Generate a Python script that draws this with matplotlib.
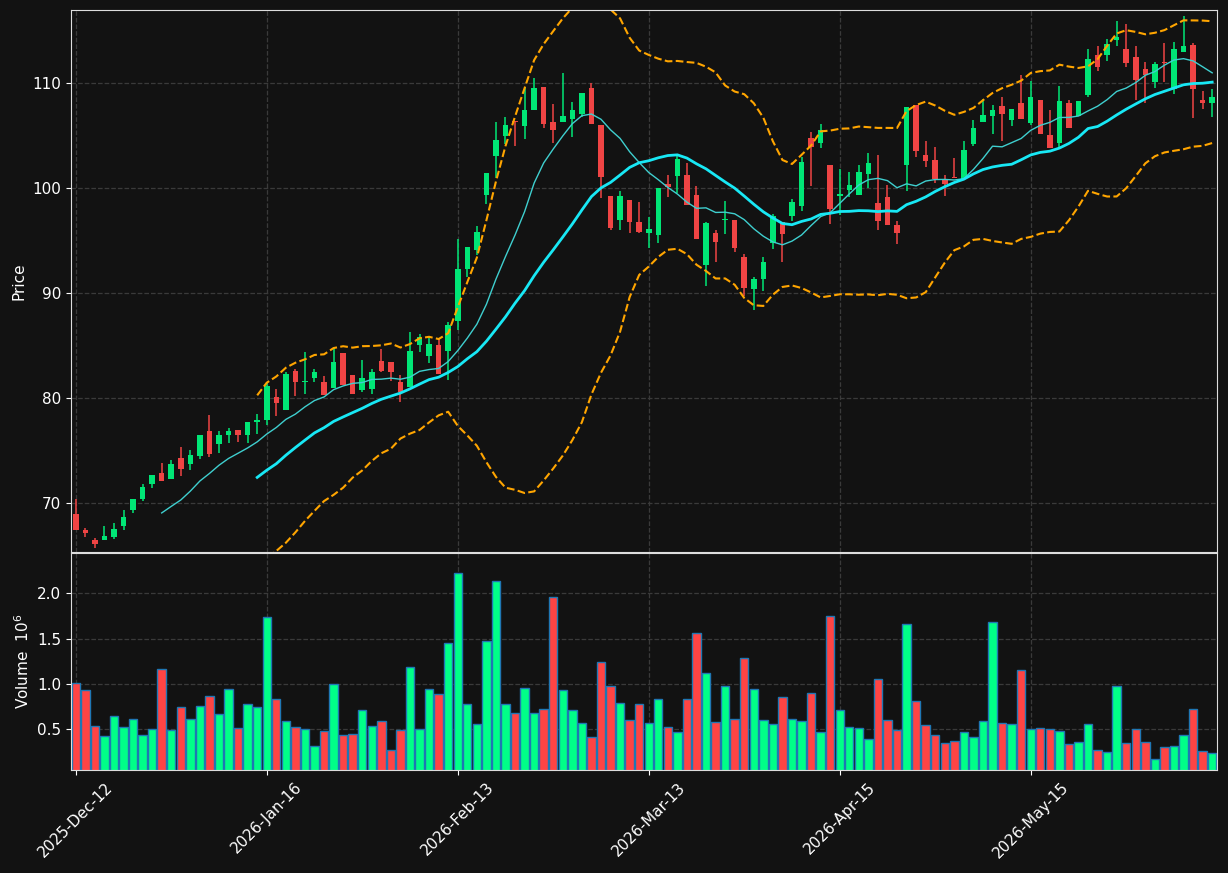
import numpy as np
import pandas as pd
import matplotlib
matplotlib.use("Agg")
from matplotlib import pyplot as plt

# OHLC, one entry per session
opens = [68.95, 67.43, 66.48, 66.50, 66.79, 67.84, 69.36, 70.38, 71.84, 72.86,
         72.31, 74.29, 73.74, 74.50, 76.86, 75.65, 76.50, 76.95, 76.50, 77.71,
         77.90, 80.10, 78.86, 82.57, 81.55, 81.90, 81.52, 80.95, 84.29, 82.19,
         80.76, 80.86, 83.52, 83.43, 81.52, 81.05, 85.05, 84.00, 85.05, 84.48,
         87.36, 92.26, 94.13, 99.36, 103.08, 104.98, 106.35, 105.94, 107.46, 109.62,
         106.29, 106.29, 106.54, 107.08, 109.52, 106.00, 99.27, 96.90, 98.86, 96.80,
         95.75, 95.56, 100.38, 101.17, 101.24, 99.33, 92.67, 95.71, 96.95, 96.95,
         93.43, 90.41, 91.37, 94.73, 96.80, 97.37, 98.32, 104.76, 104.26, 102.19,
         99.24, 99.84, 99.36, 101.36, 98.54, 99.14, 96.45, 102.22, 107.87, 103.11,
         102.67, 100.76, 101.05, 100.86, 104.22, 106.32, 106.86, 107.81, 106.51, 108.07,
         106.23, 108.38, 105.00, 104.29, 108.07, 106.86, 108.89, 112.67, 112.70, 114.10,
         113.24, 112.48, 111.33, 110.13, 112.00, 109.40, 112.98, 113.62, 108.38, 108.13]
highs = [70.38, 67.62, 66.67, 67.81, 68.07, 69.33, 70.38, 71.81, 72.67, 73.81,
         74.10, 75.33, 75.05, 76.48, 78.38, 76.86, 77.14, 76.95, 77.71, 78.48,
         81.55, 80.86, 82.48, 82.76, 84.38, 82.76, 82.10, 84.76, 84.29, 82.19,
         83.62, 82.76, 84.67, 83.43, 82.19, 86.29, 86.10, 85.90, 85.62, 87.24,
         95.17, 94.38, 96.35, 101.43, 106.26, 106.73, 106.35, 109.59, 110.44, 109.62,
         107.97, 110.92, 108.19, 109.05, 110.00, 106.00, 99.27, 99.71, 98.86, 98.67,
         97.27, 100.00, 101.24, 103.11, 102.35, 100.19, 96.80, 95.97, 98.76, 96.95,
         93.68, 91.55, 93.43, 97.55, 96.80, 98.95, 102.98, 105.37, 106.10, 102.19,
         101.81, 101.50, 102.16, 103.30, 103.11, 100.25, 96.83, 107.69, 107.87, 104.44,
         103.87, 101.21, 102.83, 104.48, 106.45, 108.45, 107.87, 108.64, 107.50, 110.73,
         110.22, 108.38, 107.43, 109.68, 108.38, 108.29, 113.21, 113.52, 114.16, 115.90,
         115.62, 113.52, 112.00, 111.97, 113.78, 113.87, 116.38, 113.78, 109.24, 109.43]
lows = [67.40, 66.74, 65.69, 66.45, 66.60, 67.46, 69.08, 70.22, 71.40, 72.10,
        72.31, 72.60, 73.17, 74.22, 74.35, 74.80, 75.74, 75.84, 75.69, 76.54,
        77.43, 78.26, 78.86, 80.23, 80.41, 81.50, 80.29, 80.95, 81.24, 80.38,
        80.57, 80.38, 82.48, 81.65, 79.62, 81.05, 84.38, 83.33, 82.29, 81.70,
        86.48, 91.50, 93.65, 98.48, 100.92, 104.19, 104.00, 104.67, 107.46, 105.68,
        104.26, 106.29, 104.83, 106.80, 106.13, 99.02, 96.03, 95.97, 95.68, 95.68,
        94.25, 94.80, 99.17, 99.50, 98.41, 95.14, 90.70, 92.98, 95.65, 93.87,
        89.74, 88.35, 90.16, 94.16, 92.92, 96.89, 97.78, 100.16, 103.78, 96.54,
        97.46, 99.17, 99.36, 100.03, 95.97, 96.51, 94.64, 99.69, 102.98, 101.98,
        100.45, 99.27, 100.93, 100.86, 104.03, 106.32, 105.14, 104.45, 105.90, 106.60,
        106.00, 105.14, 103.80, 103.80, 105.68, 106.86, 108.64, 111.18, 112.12, 113.52,
        111.56, 108.38, 108.13, 109.52, 110.13, 108.92, 112.98, 106.64, 107.50, 106.80]
closes = [67.46, 67.18, 66.12, 66.86, 67.52, 68.67, 70.38, 71.52, 72.67, 72.13,
          73.71, 73.27, 74.57, 76.48, 74.70, 76.48, 76.86, 76.50, 77.71, 77.90,
          81.14, 79.52, 82.29, 81.52, 81.62, 82.48, 80.29, 83.43, 81.24, 80.38,
          81.90, 82.48, 82.57, 82.48, 80.57, 84.48, 85.81, 85.14, 82.29, 86.95,
          92.29, 94.38, 95.81, 101.43, 104.57, 106.00, 106.30, 107.43, 109.49, 106.13,
          105.56, 106.86, 107.43, 109.05, 106.13, 101.02, 96.23, 99.27, 96.80, 95.85,
          96.07, 100.00, 100.07, 102.76, 98.41, 95.14, 96.67, 94.89, 97.05, 94.32,
          90.50, 91.33, 92.95, 97.33, 95.65, 98.67, 102.48, 103.94, 105.52, 98.00,
          99.43, 100.29, 101.52, 102.38, 96.89, 96.51, 95.69, 107.69, 103.55, 102.60,
          100.89, 100.38, 100.98, 103.62, 105.71, 106.95, 107.40, 107.08, 107.50, 106.60,
          108.64, 105.14, 103.80, 108.29, 105.75, 108.29, 112.26, 111.56, 113.75, 114.41,
          111.90, 110.32, 110.76, 111.81, 111.87, 113.21, 113.52, 109.46, 108.13, 108.64]
# volume in millions
volumes = [1.01, 0.93, 0.54, 0.43, 0.65, 0.53, 0.61, 0.44, 0.50, 1.17,
           0.49, 0.75, 0.61, 0.76, 0.87, 0.67, 0.95, 0.52, 0.78, 0.75,
           1.74, 0.84, 0.59, 0.53, 0.51, 0.32, 0.48, 1.00, 0.44, 0.45,
           0.71, 0.54, 0.59, 0.27, 0.49, 1.19, 0.51, 0.94, 0.89, 1.45,
           2.22, 0.78, 0.56, 1.47, 2.13, 0.78, 0.68, 0.96, 0.68, 0.72,
           1.96, 0.93, 0.71, 0.57, 0.42, 1.24, 0.98, 0.79, 0.60, 0.78,
           0.57, 0.84, 0.53, 0.47, 0.84, 1.56, 1.12, 0.58, 0.98, 0.62,
           1.29, 0.94, 0.60, 0.56, 0.86, 0.62, 0.59, 0.90, 0.47, 1.75,
           0.71, 0.53, 0.52, 0.39, 1.05, 0.60, 0.49, 1.66, 0.81, 0.55,
           0.44, 0.35, 0.37, 0.47, 0.42, 0.59, 1.68, 0.57, 0.56, 1.15,
           0.51, 0.52, 0.50, 0.48, 0.34, 0.36, 0.56, 0.27, 0.25, 0.98,
           0.35, 0.50, 0.36, 0.18, 0.31, 0.32, 0.44, 0.72, 0.26, 0.24]
tick_idx = [0, 20, 40, 60, 80, 100]
tick_labels = ['2025-Dec-12', '2026-Jan-16', '2026-Feb-13',
               '2026-Mar-13', '2026-Apr-15', '2026-May-15']

df = pd.DataFrame({'Open': opens, 'High': highs, 'Low': lows,
                   'Close': closes, 'Volume': volumes})
x = np.arange(len(df))
ma10 = df['Close'].rolling(10).mean()
ma20 = df['Close'].rolling(20).mean()
sd20 = df['Close'].rolling(20).std(ddof=0)
bb_up = ma20 + 2 * sd20
bb_lo = ma20 - 2 * sd20

bg = '#121212'
up_c, dn_c = '#00e676', '#ef4444'
vup_c, vdn_c = '#00ff88', '#ff4444'
grid_c = '#3a3a3a'

fig = plt.figure(figsize=(12.28, 8.73), dpi=100, facecolor=bg)
ax = fig.add_axes([0.0578, 0.3677, 0.9332, 0.6209])
axv = fig.add_axes([0.0578, 0.1180, 0.9332, 0.2486], sharex=ax)

for a in (ax, axv):
    a.set_facecolor(bg)
    for s in a.spines.values():
        s.set_color('#dddddd')
    a.tick_params(colors='white', labelsize=11)
    a.grid(True, color=grid_c, linestyle='--', linewidth=0.9)
    a.set_axisbelow(True)

is_up = df['Close'] >= df['Open']
ccol = np.where(is_up, up_c, dn_c)
vcol = np.where(is_up, vup_c, vdn_c)

# candles
ax.vlines(x, df['Low'], df['High'], colors=ccol, linewidth=1.1)
body = (df['Close'] - df['Open']).abs().clip(lower=0.08)
ax.bar(x, body, bottom=np.minimum(df['Open'], df['Close']), width=0.58,
       color=ccol, linewidth=0)

ax.plot(x, ma10, color='#3fcfcf', linewidth=1.0)
ax.plot(x, ma20, color='#18e8f5', linewidth=2.0)
ax.plot(x, bb_up, color='#ffa500', linewidth=1.5, linestyle='--')
ax.plot(x, bb_lo, color='#ffa500', linewidth=1.5, linestyle='--')

ax.set_ylim(65.33, 116.95)
ax.set_xlim(-0.5, len(df) - 0.5)
ax.set_yticks([70, 80, 90, 100, 110])
ax.set_ylabel('Price', color='white', fontsize=11)
plt.setp(ax.get_xticklabels(), visible=False)

# volume
axv.bar(x, df['Volume'], width=0.88, color=vcol, edgecolor='#1f77b4',
        linewidth=1.0)
axv.set_ylim(0.3 * min(volumes), 1.1 * max(volumes))
axv.set_yticks([0.5, 1.0, 1.5, 2.0])
axv.set_ylabel('Volume  $10^{6}$', color='white', fontsize=11)
axv.set_xticks(tick_idx)
axv.set_xticklabels(tick_labels, rotation=45, ha='center')

fig.savefig('out.png', dpi=100, facecolor=bg)
